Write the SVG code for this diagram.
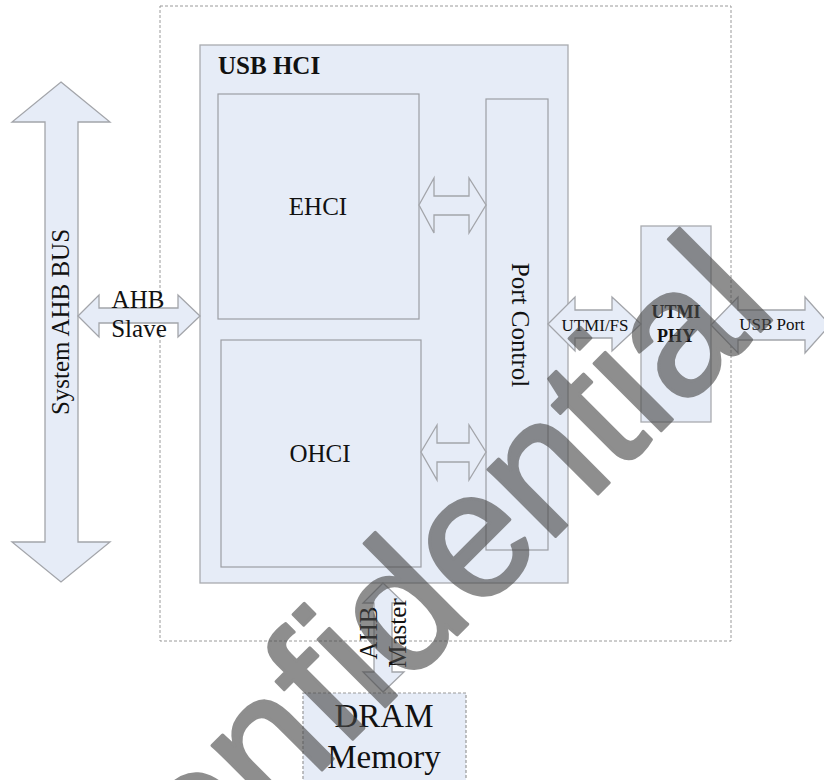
<svg xmlns="http://www.w3.org/2000/svg" width="824" height="780" viewBox="0 0 824 780">
<style>
.box{fill:#e6ecf7;stroke:#a9abb0;stroke-width:1.3}
.inner{fill:#e6ecf7;stroke:#9c9ea4;stroke-width:1.2}
.dash{fill:none;stroke:#9a9a9a;stroke-width:1;stroke-dasharray:3 2}
.arr{fill:#e6ecf7;stroke:#a3a5aa;stroke-width:1.3;stroke-linejoin:miter}
.t{font-family:"Liberation Serif","Times New Roman",serif;fill:#111;font-size:25px}
.s{font-family:"Liberation Serif","Times New Roman",serif;fill:#111;font-size:17px}
.b{font-weight:bold}
.wm{font-family:"Liberation Sans",Arial,sans-serif;font-size:180px;fill:#4a4a4a;stroke:#4a4a4a;stroke-width:3;stroke-linejoin:round}
</style>
<rect id="chip-boundary" class="dash" x="160" y="6" width="571" height="635"/>
<g id="usb-hci">
  <rect class="box" x="200" y="45" width="368" height="538"/>
  <text class="t b" x="218" y="74">USB HCI</text>
</g>
<g id="ehci">
  <rect class="inner" x="218" y="94" width="201" height="225"/>
  <text class="t" x="318" y="215" text-anchor="middle">EHCI</text>
</g>
<g id="ohci">
  <rect class="inner" x="221" y="340" width="200" height="227"/>
  <text class="t" x="320" y="462" text-anchor="middle">OHCI</text>
</g>
<g id="port-control">
  <rect class="inner" x="486" y="99" width="62" height="451"/>
  <text class="t" transform="translate(512,325) rotate(90)" text-anchor="middle">Port Control</text>
</g>
<g id="utmi-phy">
  <rect class="box" x="641" y="226" width="70" height="196"/>
  <text class="s b" x="676" y="318" text-anchor="middle" style="font-size:18px">UTMI</text>
  <text class="s b" x="676" y="342" text-anchor="middle" style="font-size:18px">PHY</text>
</g>
<g id="dram">
  <rect class="inner" x="303" y="693" width="163" height="100" style="stroke-dasharray:3 2;stroke:#999"/>
  <text class="t" x="384" y="727" text-anchor="middle" style="font-size:33px">DRAM</text>
  <text class="t" x="384" y="768" text-anchor="middle" style="font-size:33px">Memory</text>
</g>
<g id="system-ahb-bus">
  <polygon class="arr" points="61,82 110,122 78,122 78,542 110,542 61,582 12,542 45,542 45,122 12,122"/>
  <text class="t" transform="translate(69,322) rotate(-90)" text-anchor="middle">System AHB BUS</text>
</g>
<g id="connectors">
  <g id="ahb-slave">
    <polygon class="arr" points="78,316 99,295 99,308 178,308 178,295 200,316 178,337 178,323 99,323 99,337"/>
    <text class="t" x="138" y="308" text-anchor="middle">AHB</text>
    <text class="t" x="139" y="337" text-anchor="middle">Slave</text>
  </g>
  <polygon id="ehci-port" class="arr" points="419,205 434,178 434,196 469,196 469,178 486,205 469,233 469,215 434,215 434,233"/>
  <polygon id="ohci-port" class="arr" points="421,452 437,425 437,443 469,443 469,425 486,452 469,480 469,462 437,462 437,480"/>
  <g id="utmi-fs">
    <polygon class="arr" points="548,324 575,297 575,310 612,310 612,297 641,324 612,351 612,338 575,338 575,351"/>
    <text class="s" x="595" y="331" text-anchor="middle">UTMI/FS</text>
  </g>
  <g id="usb-port">
    <polygon class="arr" points="711,325 738,297 738,310 805,310 805,297 830,325 805,353 805,340 738,340 738,353"/>
    <text class="s" x="772" y="330" text-anchor="middle">USB Port</text>
  </g>
  <g id="ahb-master">
    <polygon class="arr" points="383,583 404,603 392,603 392,672 404,672 383,692 363,672 374,672 374,603 363,603"/>
    <text class="t" transform="translate(377,633) rotate(-90)" text-anchor="middle">AHB</text>
    <text class="t" transform="translate(406,633) rotate(-90)" text-anchor="middle">Master</text>
  </g>
</g>
<text class="wm" transform="translate(108,984) rotate(-45)" opacity="0.62">Confidential</text>
</svg>
